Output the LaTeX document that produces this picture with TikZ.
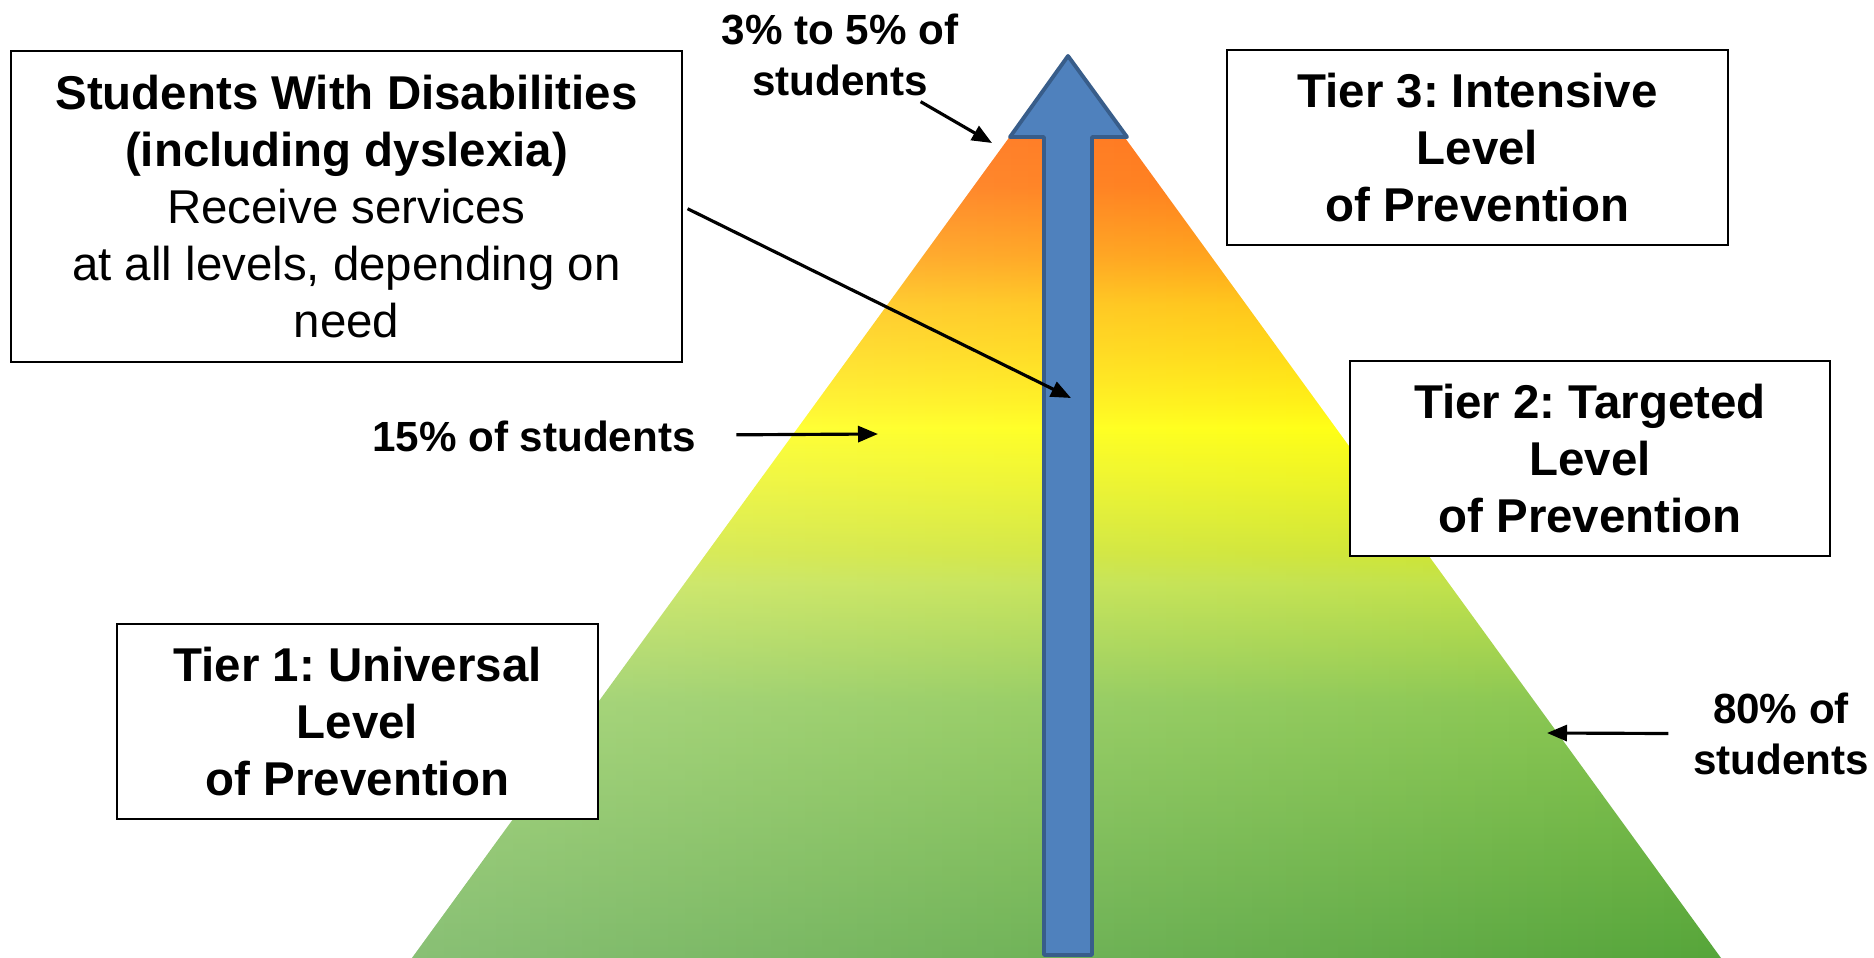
\documentclass[tikz,border=0pt]{standalone}
\usepackage{fontspec}
\setmainfont{Liberation Sans}
\usetikzlibrary{arrows.meta,fadings}
\frenchspacing

\definecolor{arrowblue}{HTML}{4F81BD}
\definecolor{arrowedge}{HTML}{385D8A}
\definecolor{pyrA}{HTML}{56A53A}
\definecolor{pyrB}{HTML}{86C54C}
\definecolor{pyrC}{HTML}{BEE040}
\definecolor{pyrD}{HTML}{CCE428}
\definecolor{pyrE}{HTML}{EEF510}
\definecolor{pyrF}{HTML}{FFFF00}
\definecolor{pyrG}{HTML}{FFF000}
\definecolor{pyrH}{HTML}{FFD700}
\definecolor{pyrI}{HTML}{FFC000}
\definecolor{pyrJ}{HTML}{FF9900}
\definecolor{pyrK}{HTML}{FF6F00}
\definecolor{pyrL}{HTML}{FF5A00}

\pgfdeclareverticalshading{pyramid}{100bp}{color(0bp)=(pyrA); color(25bp)=(pyrA);
  color(39.2bp)=(pyrB); color(45.8bp)=(pyrC); color(47.5bp)=(pyrD); color(51.9bp)=(pyrE);
  color(54.5bp)=(pyrF); color(55.8bp)=(pyrG); color(58.5bp)=(pyrH); color(61.3bp)=(pyrI);
  color(64bp)=(pyrJ); color(67.9bp)=(pyrK); color(75bp)=(pyrL); color(100bp)=(pyrL)}
\tikzfading[name=fadewest, left color=transparent!70, right color=transparent!100]

\tikzset{
  tierbox/.style={draw, line width=0.6pt, fill=white, align=center, inner sep=0pt,
    font=\fontsize{13.5}{16.2}\selectfont\bfseries},
  pct/.style={align=center, inner sep=0pt, font=\fontsize{12}{14.5}\selectfont\bfseries},
  ptr/.style={line width=0.9pt, -{Triangle[length=2mm,width=1.6mm]}}
}

\begin{document}
\begin{tikzpicture}[x=0.1mm,y=-0.1mm]
	\useasboundingbox (0,0) rectangle (1874,958);
	\begin{scope}
		\clip (0,0) rectangle (1874,958);
		\shade[shading=pyramid] (412,958) -- (1067,58) -- (1721,958) -- cycle;
		\fill[white,path fading=fadewest] (412,958) -- (1067,58) -- (1721,958) -- cycle;
		\filldraw[fill=arrowblue,draw=arrowedge,line width=1.1pt,line join=round] (1044,955) -- (1044,137) -- (1010,137) -- (1068,56) -- (1127,137) -- (1092,137) -- (1092,955) -- cycle;
	\end{scope}
	\coordinate (topedge) at (992,143);
	\coordinate (shaft) at (1071,398);
	\coordinate (midedge) at (878,434);
	\coordinate (baseedge) at (1547,733);
	\node[tierbox,minimum width=67.1mm,minimum height=31.1mm] (swd) at (346.5,206.5) {Students With Disabilities\\(including dyslexia)\\\mdseries Receive services\\\mdseries at all levels, depending on\\\mdseries need};
	\node[tierbox,minimum width=50.1mm,minimum height=19.5mm] (tier3) at (1477.5,147.5) {Tier 3: Intensive\\Level\\of Prevention};
	\node[tierbox,minimum width=48mm,minimum height=19.5mm] (tier2) at (1590,458.5) {Tier 2: Targeted\\Level\\of Prevention};
	\node[tierbox,minimum width=48.1mm,minimum height=19.5mm] (tier1) at (357.5,721.5) {Tier 1: Universal\\Level\\of Prevention};
	\node[pct] (pct35) at (840,55) {3\% to 5\% of\\students};
	\node[pct] (pct15) at (534,436) {15\% of students};
	\node[pct] (pct80) at (1781,734) {80\% of\\students};
	\draw[ptr,shorten <=1mm] (pct35) -- (topedge);
	\draw[ptr,shorten <=4mm] (pct15) -- (midedge);
	\draw[ptr,shorten <=2.4mm] (pct80) -- (baseedge);
	\draw[ptr,shorten <=0.5mm] (swd.east) -- (shaft);
\end{tikzpicture}
\end{document}
